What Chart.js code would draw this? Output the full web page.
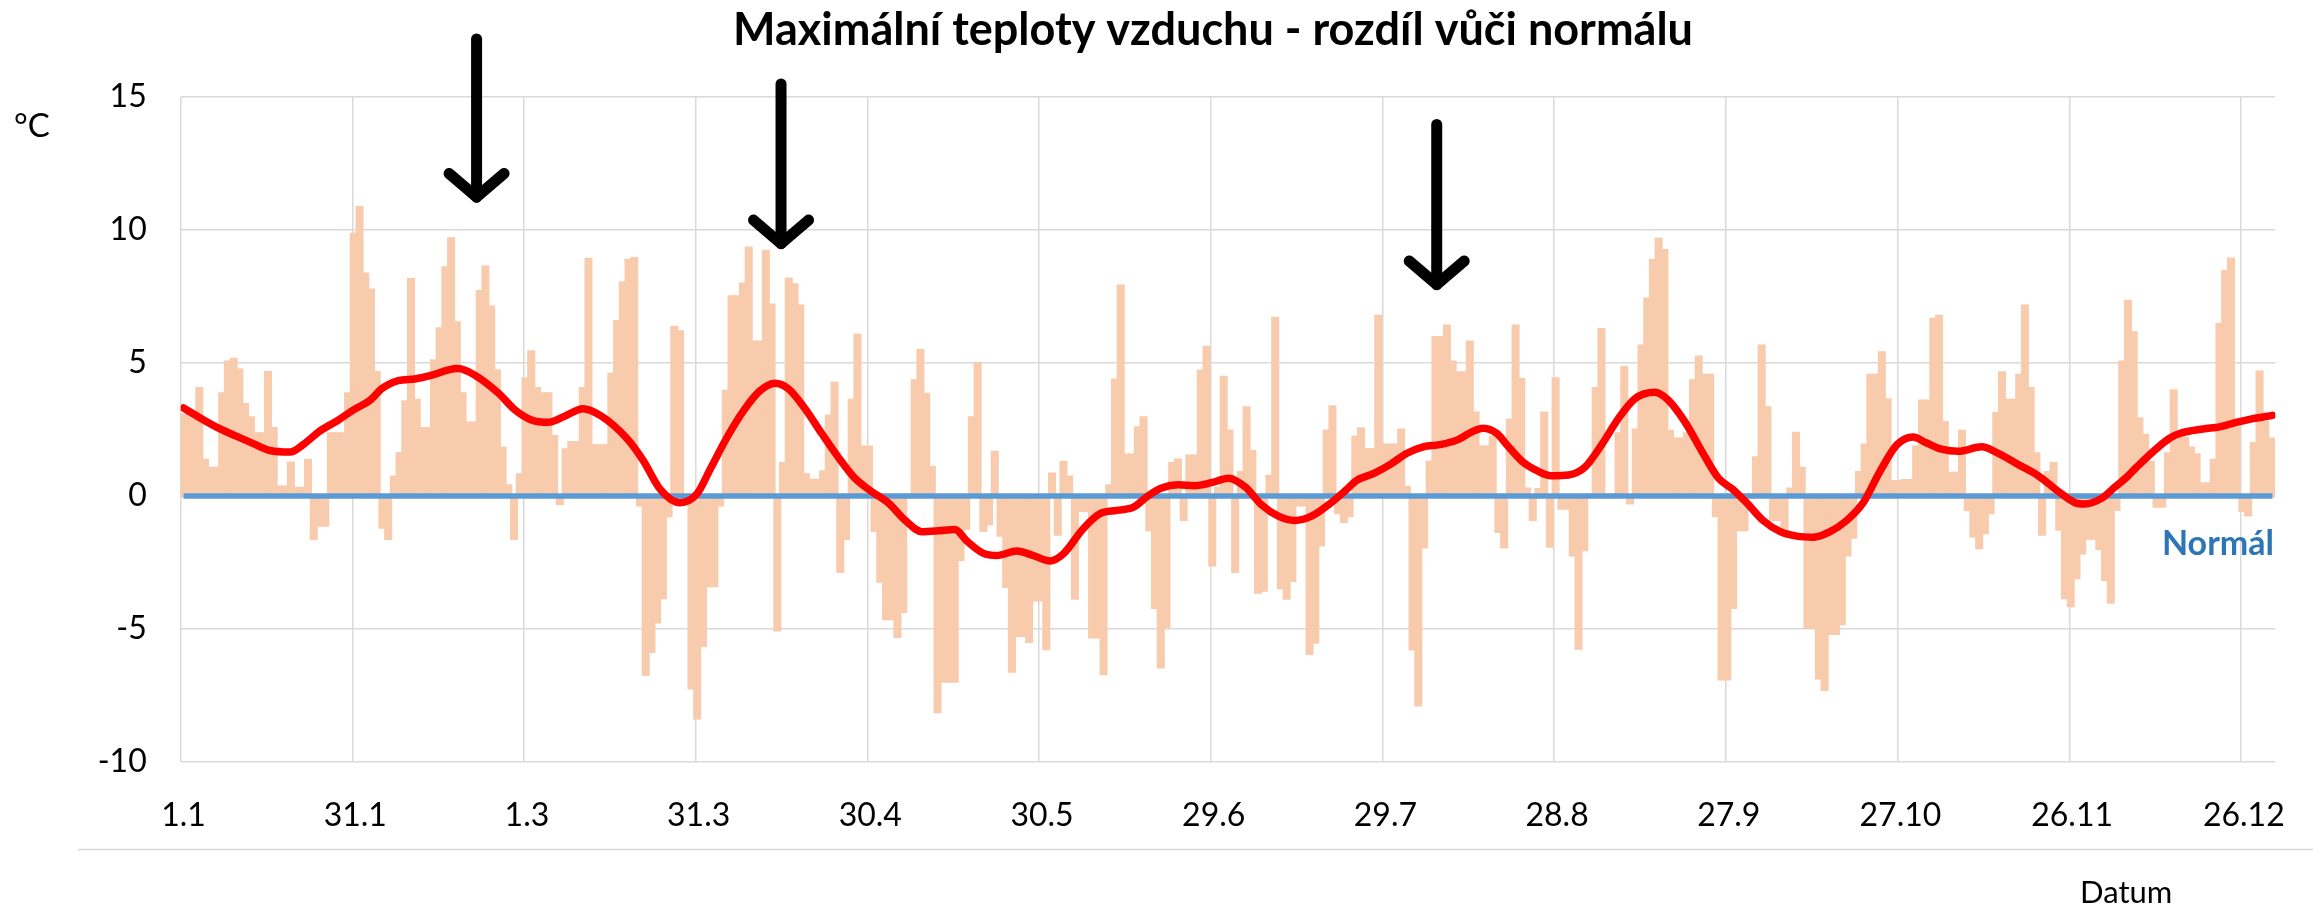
<!DOCTYPE html>
<html>
<head>
<meta charset="utf-8">
<script src="https://cdn.jsdelivr.net/npm/chart.js@4.4.0/dist/chart.umd.min.js"></script>
<style>
html,body{margin:0;padding:0;background:#fff;overflow:hidden}
#wrap{position:relative;width:2313px;height:910px}
</style>
</head>
<body>
<div id="wrap"><canvas id="c" width="2313" height="910"></canvas></div>
<script>
// ---- DATA ----
const titleText = 'Maximální teploty vzduchu - rozdíl vůči normálu';
const unitLabel = '°C';
const xAxisTitle = 'Datum';
const normalLabel = 'Normál';

// tick labels shown every 30th day (1.1 ... 26.12), leap year, 366 days
const tickLabels = ['1.1','31.1','1.3','31.3','30.4','30.5','29.6','29.7','28.8','27.9','27.10','26.11','26.12'];
const dayNumbers = [];
for (let d = 1; d <= 366; d++) dayNumbers.push(d);

// daily deviation of max. temperature from normal (°C)
const anomalyValues = [
  3.0, 3.0, 3.0, 4.0, 1.3, 1.0, 1.0, 3.8, 5.0, 5.1,
  4.7, 3.4, 2.9, 2.3, 2.3, 4.6, 2.5, 0.3, 0.3, 1.2,
  0.25, 0.25, 1.3, -1.56, -1.06, -1.06, 2.3, 2.3, 2.3, 3.8,
  9.8, 10.8, 8.3, 7.7, 4.6, -1.13, -1.56, 0.67, 1.56, 3.5,
  8.1, 3.56, 2.5, 2.5, 5.04, 6.25, 8.54, 9.63, 6.47, 3.8,
  2.7, 2.7, 7.65, 8.57, 7.06, 4.67, 1.76, 0.34, -1.56, 0.76,
  4.37, 5.38, 4.0, 3.8, 3.8, 2.2, -0.25, 1.7, 1.97, 1.97,
  4.0, 8.86, 1.85, 1.85, 1.85, 4.54, 6.52, 7.98, 8.82, 8.89,
  -0.3, -6.67, -5.8, -4.7, -3.78, -0.7, 6.3, 6.13, 0, -7.18,
  -8.3, -5.58, -3.33, -3.33, -0.3, 3.9, 7.45, 7.45, 7.93, 9.28,
  5.75, 5.75, 9.16, 7.14, -5.0, 1.18, 8.12, 7.9, 7.1, 0.76,
  0.55, 0.55, 0.87, 2.97, 4.2, -2.8, -1.56, 3.56, 6.0, 1.8,
  1.8, -1.26, -3.16, -4.57, -4.57, -5.24, -4.3, 0, 4.29, 5.43,
  3.78, 1.04, -8.07, -6.92, -6.92, -6.92, -2.35, -1.18, 2.9, 4.94,
  -1.26, -1.0, 1.6, -1.43, -3.36, -6.55, -5.2, -5.2, -5.43, -3.87,
  -3.87, -5.7, 0.79, -1.4, 1.23, 0.67, -3.8, -0.5, -0.5, -5.26,
  -5.26, -6.64, 0.34, 4.32, 7.85, 1.5, 1.5, 2.52, 2.9, -1.23,
  -4.15, -6.39, -4.87, 1.18, 1.31, -0.84, 1.46, 1.46, 4.66, 5.55,
  -2.55, 0.25, 4.42, 2.4, -2.8, 0.84, 3.28, 1.63, -3.58, -3.5,
  0.7, 6.64, -3.41, -3.8, -3.14, -0.3, -0.3, -5.88, -5.46, -1.8,
  2.4, 3.31, -0.59, -0.92, -0.7, 2.18, 2.49, 1.71, 1.71, 6.72,
  1.88, 1.88, 1.88, 2.44, 0.29, -5.71, -7.82, -1.88, 1.23, 5.92,
  5.92, 6.35, 5.0, 4.59, 4.59, 5.75, 3.08, 1.8, 1.8, 2.18,
  -1.29, -1.88, 2.82, 6.35, 4.34, 0.22, -0.84, 0.2, 3.08, -1.85,
  4.37, -0.42, -0.42, -2.18, -5.68, -1.98, 0, 4.0, 6.22, 0,
  0, 2.3, 4.79, -0.22, 2.44, 5.6, 7.36, 8.82, 9.61, 9.19,
  2.39, 2.1, 2.1, 2.3, 4.29, 5.18, 4.5, 4.5, -0.7, -6.84,
  -6.84, -4.15, -1.23, -1.23, 0, 1.4, 5.6, 3.28, -0.84, -0.84,
  -1.4, 0.22, 2.32, 1.0, -4.9, -4.9, -6.8, -7.23, -5.13, -5.13,
  -4.76, -2.18, -1.51, 0.84, 1.88, 4.5, 4.5, 5.34, 3.58, 0.5,
  0.5, 0.54, 0.54, 1.8, 3.53, 3.53, 6.6, 6.72, 2.72, 0.81,
  0.81, 2.39, -0.47, -1.46, -1.9, -1.34, -0.59, 3.06, 4.59, 3.56,
  3.56, 4.5, 7.1, 4.0, 1.55, -1.4, 0.84, 1.18, -1.21, -3.78,
  -4.08, -3.03, -2.1, -1.55, -1.55, -1.93, -3.1, -3.95, -0.47, 5.0,
  7.28, 6.1, 2.86, 2.24, 1.23, -0.34, -0.34, 1.55, 3.92, 2.13,
  2.13, 1.76, 1.51, 0.42, 0.42, 1.3, 6.42, 8.4, 8.87, 2.52,
  -0.5, -0.67, 1.93, 4.62, 2.72, 2.1
];

// smoothed trend (red curve), read at sample days
const trendDays = [
  1, 4.5, 7.4, 10.3, 13.2, 16.1, 19.6, 21.9, 24.8, 27.8, 30.7, 33.6, 35.6, 38.5, 41.4, 44.4, 47.3, 49, 51.9, 56,
  58.9, 61.8, 64.7, 67.6, 70.8, 73.8, 78.4, 81.3, 84.3, 87.7, 90.7, 93, 95.9, 98.8, 101.7, 104.3, 106.7, 109.6, 112.5, 115.4,
  118.3, 121.2, 124.1, 127.1, 130, 132.9, 135.8, 137.8, 140.7, 143.1, 146.6, 149.5, 152.4, 154.7, 158.2, 161.1, 164.1, 167, 169.5, 171.9,
  174.8, 177.7, 180.6, 183.6, 186.5, 189.4, 192.3, 195.2, 198.1, 201, 204, 206, 208.9, 211.8, 214.7, 217.6, 220.5, 223.5, 226.4, 228.1,
  230.5, 232.2, 235.1, 237.5, 240, 243, 245.9, 248.8, 251.7, 254.6, 258.1, 260.4, 263.4, 266.3, 269.2, 271.7, 274.1, 277, 280, 282.9,
  285.8, 288.7, 291.6, 294.5, 297.4, 300.4, 303.2, 305.5, 308.2, 311.1, 315.2, 318.1, 321.6, 325.1, 328.6, 331.5, 333.2, 336.2, 338.5, 340.5,
  342.3, 345.2, 348.1, 349.8, 353.9, 356.8, 359.7, 362.6, 366
];
const trendValues = [
  3.31, 2.86, 2.52, 2.24, 1.97, 1.71, 1.65, 1.93, 2.44, 2.82, 3.24, 3.6, 4.03, 4.34, 4.4, 4.54, 4.74, 4.79, 4.54, 3.87,
  3.24, 2.86, 2.77, 3.0, 3.28, 3.03, 2.18, 1.34, 0.25, -0.25, 0.08, 1.0, 2.18, 3.19, 3.95, 4.24, 4.03, 3.28, 2.35, 1.46,
  0.67, 0.17, -0.25, -0.92, -1.34, -1.31, -1.26, -1.68, -2.15, -2.24, -2.07, -2.24, -2.44, -2.18, -1.23, -0.67, -0.54, -0.42, 0.0, 0.3,
  0.42, 0.39, 0.5, 0.67, 0.34, -0.34, -0.76, -0.92, -0.76, -0.34, 0.2, 0.59, 0.84, 1.18, 1.6, 1.85, 1.93, 2.1, 2.44, 2.55,
  2.35, 1.93, 1.26, 0.95, 0.76, 0.79, 1.09, 1.93, 2.91, 3.66, 3.9, 3.61, 2.77, 1.68, 0.67, 0.25, -0.25, -0.92, -1.34, -1.51,
  -1.55, -1.34, -0.92, -0.25, 0.92, 1.93, 2.22, 2.0, 1.76, 1.68, 1.85, 1.6, 1.18, 0.76, 0.17, -0.25, -0.3, -0.08, 0.34, 0.7,
  1.09, 1.68, 2.18, 2.35, 2.52, 2.6, 2.77, 2.91, 3.03
];

// normal = zero deviation
const normalDays = [1, 366];
const normalValues = [0, 0];

// arrows: day, value of tip, value of top of shaft
const arrowDays = [52.2, 105.4, 219.97];
const arrowTips = [11.24, 9.49, 7.95];
const arrowTops = [17.18, 15.49, 13.97];

// ---- CHART ----
const FONT = 'Lato, "Open Sans", "DejaVu Sans", sans-serif';

const annotations = {
  id: 'annotations',
  afterDraw(chart) {
    const ctx = chart.ctx;
    const xs = chart.scales.x2, ys = chart.scales.y;
    ctx.save();
    // separator line below the axis labels
    ctx.strokeStyle = '#d9d9d9';
    ctx.lineWidth = 1.5;
    ctx.beginPath();
    ctx.moveTo(78, 849.5);
    ctx.lineTo(2313, 849.5);
    ctx.stroke();
    // title
    ctx.fillStyle = '#000';
    ctx.font = 'bold 45px ' + FONT;
    ctx.textAlign = 'center';
    ctx.textBaseline = 'alphabetic';
    ctx.fillText(titleText, 1213, 45);
    // unit
    ctx.font = '33px ' + FONT;
    ctx.textAlign = 'left';
    ctx.fillText(unitLabel, 14, 137);
    // x axis title
    ctx.font = '31px ' + FONT;
    ctx.fillText(xAxisTitle, 2080, 903);
    // normal label
    ctx.fillStyle = '#2E75B6';
    ctx.font = 'bold 34px ' + FONT;
    ctx.textAlign = 'right';
    ctx.fillText(normalLabel, 2274, 555);
    // arrows
    ctx.strokeStyle = '#000';
    ctx.lineWidth = 11;
    ctx.lineCap = 'round';
    ctx.lineJoin = 'round';
    for (let i = 0; i < arrowDays.length; i++) {
      const x = xs.getPixelForValue(arrowDays[i]);
      const yTip = ys.getPixelForValue(arrowTips[i]);
      const yTop = ys.getPixelForValue(arrowTops[i]);
      ctx.beginPath();
      ctx.moveTo(x, yTop);
      ctx.lineTo(x, yTip);
      ctx.stroke();
      ctx.beginPath();
      ctx.moveTo(x - 27.5, yTip - 23.5);
      ctx.lineTo(x, yTip);
      ctx.lineTo(x + 27.5, yTip - 23.5);
      ctx.stroke();
    }
    ctx.restore();
  }
};

const chart = new Chart(document.getElementById('c'), {
  type: 'bar',
  data: {
    labels: dayNumbers,
    datasets: [
      {
        type: 'bar',
        label: 'Odchylka od normálu',
        data: anomalyValues,
        backgroundColor: '#F8CBAD',
        borderWidth: 0,
        barPercentage: 1,
        categoryPercentage: 1,
        inflateAmount: 2.6,
        xAxisID: 'x',
        yAxisID: 'y',
        order: 3
      },
      {
        type: 'line',
        label: normalLabel,
        data: normalDays.map((d, i) => ({ x: d, y: normalValues[i] })),
        borderColor: '#5B9BD5',
        borderWidth: 5.5,
        pointRadius: 0,
        borderCapStyle: 'butt',
        xAxisID: 'x2',
        yAxisID: 'y',
        order: 2
      },
      {
        type: 'line',
        label: 'Vyhlazený průběh',
        data: trendDays.map((d, i) => ({ x: d, y: trendValues[i] })),
        borderColor: '#FF0000',
        borderWidth: 7.5,
        pointRadius: 0,
        cubicInterpolationMode: 'monotone',
        borderCapStyle: 'round',
        borderJoinStyle: 'round',
        xAxisID: 'x2',
        yAxisID: 'y',
        order: 1
      }
    ]
  },
  options: {
    responsive: false,
    animation: false,
    devicePixelRatio: 1,
    layout: { padding: { top: 97, right: 37.7, left: 0, bottom: 0 } },
    plugins: {
      legend: { display: false },
      tooltip: { enabled: false },
      title: { display: false }
    },
    scales: {
      x: {
        type: 'category',
        offset: true,
        border: { display: false },
        grid: {
          offset: true,
          drawTicks: false,
          lineWidth: 1.5,
          color: c => (c.index % 30 === 0 ? '#d9d9d9' : 'rgba(0,0,0,0)')
        },
        ticks: {
          autoSkip: false,
          maxRotation: 0,
          minRotation: 0,
          padding: 34,
          color: '#000',
          font: { family: FONT, size: 32 },
          callback: (v, i) => (i % 30 === 0 ? tickLabels[i / 30] : '')
        },
        afterFit: s => { s.height = 148; }
      },
      x2: {
        type: 'linear',
        display: false,
        offset: false,
        grid: { offset: false },
        bounds: 'data',
        min: 0.5,
        max: 366.5
      },
      y: {
        min: -10,
        max: 15,
        border: { display: false },
        grid: { color: '#d9d9d9', lineWidth: 1.5, drawTicks: false },
        ticks: {
          stepSize: 5,
          padding: 34,
          color: '#000',
          font: { family: FONT, size: 32 }
        },
        afterFit: s => { s.width = 180.7; }
      }
    }
  },
  plugins: [annotations]
});

if (anomalyValues.length !== 366) throw new Error('anomalyValues length ' + anomalyValues.length);
if (trendDays.length !== trendValues.length) throw new Error('trend length ' + trendDays.length + ' vs ' + trendValues.length);
</script>
</body>
</html>
